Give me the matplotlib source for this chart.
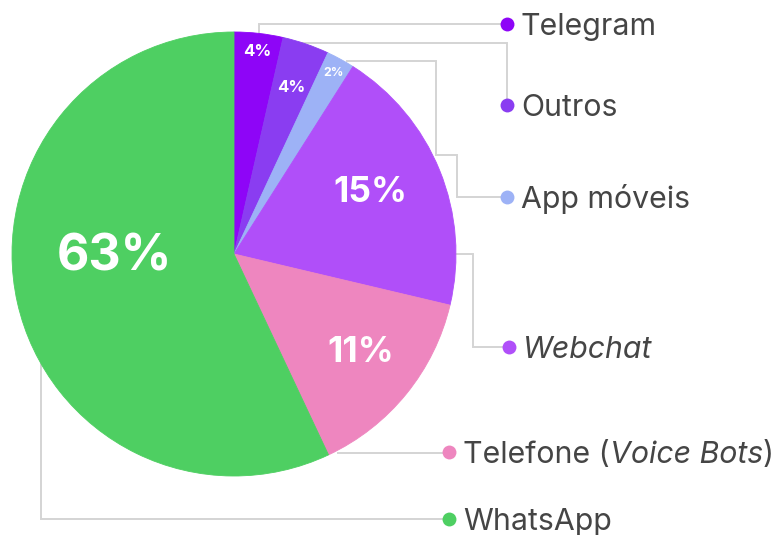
import matplotlib
matplotlib.use("Agg")
import matplotlib.pyplot as plt

# ---- data ----
categories = ["Telegram", "Outros", "App móveis", "Webchat", "Telefone (Voice Bots)", "WhatsApp"]
shares = [3.55, 3.4, 2.05, 19.7, 14.3, 57.0]          # slice sizes as drawn
pct_labels = ["4%", "4%", "2%", "15%", "11%", "63%"]  # printed values
colors = ["#8E05F7", "#8A3DF1", "#9DB2F6", "#B04FF9", "#EE86BF", "#4ECF62"]

W, H = 778, 535
fig = plt.figure(figsize=(W / 100, H / 100), dpi=100)
ax = fig.add_axes([0, 0, 1, 1])

def Y(y):
    return H - y

cx, cy, R = 234, 254, 222
wedges, _ = ax.pie(shares, colors=colors, startangle=90, counterclock=False,
                   center=(cx, Y(cy)), radius=R, frame=True,
                   wedgeprops=dict(linewidth=0.6, zorder=3))
for w, c in zip(wedges, colors):
    w.set_edgecolor(c)
ax.set_xlim(0, W)
ax.set_ylim(0, H)
ax.set_aspect("equal")
ax.axis("off")

# percent labels inside slices
pct_pos = [(257, 52), (291, 87), (334, 73), (370, 193), (361, 352), (114, 257)]
pct_size = [12, 12, 9, 25.5, 25.5, 36]
for t, (px, py), s in zip(pct_labels, pct_pos, pct_size):
    ax.text(px, Y(py), t, color="white", fontsize=s, fontweight="bold",
            family="Inter", ha="center", va="center", zorder=5)

# leader lines (layout)
routes = [
    [(259, 33), (259, 24), (507, 24)],
    [(303, 43), (507, 43), (507, 105)],
    [(347, 61), (436, 61), (436, 155), (457, 155), (457, 197), (507, 197)],
    [(450, 254), (473, 254), (473, 347), (509, 347)],
    [(338, 453), (449, 453)],
    [(41, 360), (41, 519), (449, 519)],
]
for r in routes:
    xs = [p[0] for p in r]
    ys = [Y(p[1]) for p in r]
    ax.plot(xs, ys, color="#d4d4d4", lw=1.4, zorder=1, solid_joinstyle="miter")

# legend dots and texts
dots = [(507, 24), (507, 105), (507, 197), (509, 347), (449, 452), (449, 519)]
fs = 21.8
cap_px = 0.727 * fs / 0.72
text_color = "#454545"
fig.canvas.draw()
renderer = fig.canvas.get_renderer()

def put_parts(x0, ybase, parts):
    x = x0
    for txt, style in parts:
        t = ax.text(x, ybase, txt, fontsize=fs, family="Inter", style=style,
                    color=text_color, ha="left", va="baseline", zorder=6)
        bb = t.get_window_extent(renderer=renderer)
        x = x + bb.width

label_parts = [
    [("Telegram", "normal")],
    [("Outros", "normal")],
    [("App móveis", "normal")],
    [("Webchat", "italic")],
    [("Telefone (", "normal"), ("Voice Bots", "italic"), (")", "normal")],
    [("WhatsApp", "normal")],
]
for (dx, dy), c, parts in zip(dots, colors, label_parts):
    ax.plot([dx], [Y(dy)], "o", color=c, markersize=10, markeredgewidth=0, zorder=6)
    put_parts(dx + 14, Y(dy) - cap_px / 2, parts)

fig.savefig("out.png", dpi=100, facecolor="white")
